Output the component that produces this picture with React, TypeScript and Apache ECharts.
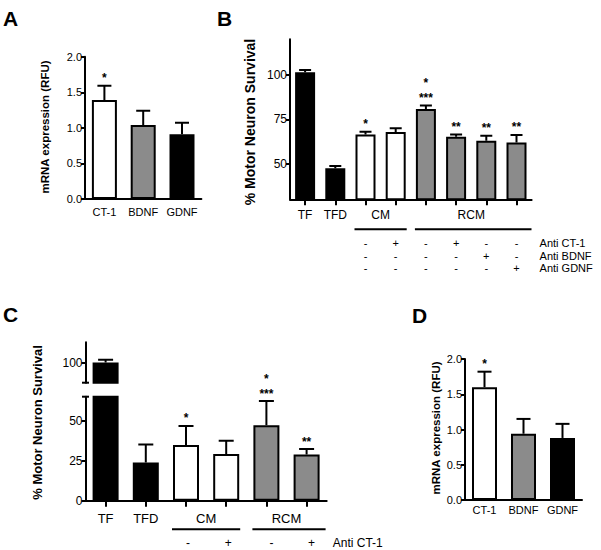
import React, { useEffect, useRef } from "react";
import * as echarts from "echarts";

const FONT = "'Liberation Sans', Arial, Helvetica, sans-serif";
const BLACK = "#000000";
const WHITE = "#ffffff";
const GRAY = "#8b8b8b";

// ---------- Panel A ----------
const aCategories = ["CT-1", "BDNF", "GDNF"];
const aValues = [1.39, 1.04, 0.91];
const aErrors = [0.2, 0.2, 0.16];
const aStars = ["*", "", ""];
const aColors = [WHITE, GRAY, BLACK];

// ---------- Panel B ----------
const bCategories = ["TF", "TFD", "CM -", "CM +", "RCM -", "RCM aCT-1", "RCM aBDNF", "RCM aGDNF"];
const bTickLabels = ["TF", "TFD", "", "", "", "", "", ""];
const bValues = [101.5, 47.5, 66.5, 67.8, 80.8, 65.2, 63.0, 62.0];
const bErrors = [1.2, 1.3, 1.5, 2.2, 1.9, 1.3, 2.8, 4.2];
const bStars = ["", "", "*", "", "*\n***", "**", "**", "**"];
const bColors = [BLACK, BLACK, WHITE, WHITE, GRAY, GRAY, GRAY, GRAY];
const bYTicks = [50, 75, 100];
const bGroups = [
  { label: "CM", from: 2, to: 3 },
  { label: "RCM", from: 4, to: 7 },
];
const bTreatmentNames = ["Anti CT-1", "Anti BDNF", "Anti GDNF"];
const bTreatmentSigns = [
  ["-", "+", "-", "+", "-", "-"],
  ["-", "-", "-", "-", "+", "-"],
  ["-", "-", "-", "-", "-", "+"],
];

// ---------- Panel C ----------
const cCategories = ["TF", "TFD", "CM -", "CM +", "RCM -", "RCM +"];
const cTickLabels = ["TF", "TFD", "", "", "", ""];
const cValues = [100, 23.8, 34.8, 29.2, 47.1, 28.8];
const cErrors = [1.7, 11.4, 11.9, 8.3, 15.2, 3.5];
const cStars = ["", "", "*", "", "*\n***", "**"];
const cColors = [BLACK, BLACK, WHITE, WHITE, GRAY, GRAY];
const cLowerTicks = [0, 25, 50];
const cUpperTicks = [100];
const cGroups = [
  { label: "CM", from: 2, to: 3 },
  { label: "RCM", from: 4, to: 5 },
];
const cTreatmentNames = ["Anti CT-1"];
const cTreatmentSigns = [["-", "+", "-", "+"]];

// ---------- Panel D ----------
const dCategories = ["CT-1", "BDNF", "GDNF"];
const dValues = [1.6, 0.94, 0.88];
const dErrors = [0.22, 0.21, 0.2];
const dStars = ["*", "", ""];
const dColors = [WHITE, GRAY, BLACK];

const mrnaTitle = "mRNA expression (RFU)";
const survivalTitle = "% Motor Neuron Survival";

// grid layouts (pixels)
const GRIDS = [
  { left: 85, top: 56.7, width: 116.4, height: 142.3 }, // A
  { left: 290, top: 39.3, width: 241.6, height: 160 }, // B
  { left: 85.5, top: 342.3, width: 241.2, height: 40.4 }, // C upper
  { left: 85.5, top: 396.7, width: 241.2, height: 104 }, // C lower
  { left: 465, top: 359, width: 117, height: 141 }, // D
];

function axisLineStyle() {
  return { show: true, lineStyle: { color: BLACK, width: 2 } };
}

function makeX(gridIndex: number, cats: string[], labels: string[] | null, opts: any) {
  return {
    type: "category",
    gridIndex,
    data: cats,
    boundaryGap: true,
    axisLine: opts.hideLine ? { show: false } : axisLineStyle(),
    axisTick: opts.ticks
      ? { show: true, alignWithLabel: true, length: 6, lineStyle: { color: BLACK, width: 2 } }
      : { show: false },
    axisLabel: opts.hideLabels
      ? { show: false }
      : {
          show: true,
          interval: 0,
          color: BLACK,
          fontFamily: FONT,
          fontSize: opts.fontSize,
          margin: opts.margin,
          formatter: (v: string, i: number) => (labels ? labels[i] : v),
        },
    splitLine: { show: false },
  };
}

function makeY(gridIndex: number, min: number, max: number, ticks: number[], fontSize: number, decimals: number) {
  return {
    type: "value",
    gridIndex,
    min,
    max,
    axisLine: axisLineStyle(),
    axisTick: { show: true, length: 4, customValues: ticks, lineStyle: { color: BLACK, width: 2 } },
    axisLabel: {
      show: true,
      customValues: ticks,
      color: BLACK,
      fontFamily: FONT,
      fontSize,
      margin: 3,
      formatter: (v: number) => v.toFixed(decimals),
    },
    splitLine: { show: false },
  };
}

function barSeries(axisIndex: number, values: number[], colors: string[], barWidth: number) {
  return {
    type: "bar",
    xAxisIndex: axisIndex,
    yAxisIndex: axisIndex,
    barWidth,
    clip: true,
    silent: true,
    itemStyle: { borderColor: BLACK, borderWidth: 2 },
    data: values.map((v, i) => ({ value: v, itemStyle: { color: colors[i], borderColor: BLACK, borderWidth: 2 } })),
  };
}

function errorSeries(axisIndex: number, values: number[], errors: number[], cap: number) {
  return {
    type: "custom",
    xAxisIndex: axisIndex,
    yAxisIndex: axisIndex,
    clip: true,
    silent: true,
    encode: { x: 0, y: 1 },
    data: values.map((v, i) => [i, v, v + errors[i]]),
    renderItem: (params: any, api: any) => {
      const i = api.value(0);
      const base = api.coord([i, api.value(1)]);
      const top = api.coord([i, api.value(2)]);
      return {
        type: "group",
        children: [
          { type: "line", shape: { x1: base[0], y1: base[1], x2: base[0], y2: top[1] }, style: { stroke: BLACK, lineWidth: 2 } },
          { type: "line", shape: { x1: base[0] - cap / 2, y1: top[1], x2: base[0] + cap / 2, y2: top[1] }, style: { stroke: BLACK, lineWidth: 2 } },
        ],
      };
    },
  };
}

function starSeries(axisIndex: number, values: number[], errors: number[], stars: string[]) {
  return {
    type: "custom",
    xAxisIndex: axisIndex,
    yAxisIndex: axisIndex,
    clip: false,
    silent: true,
    encode: { x: 0, y: 1 },
    data: values.map((v, i) => [i, v + errors[i]]),
    renderItem: (params: any, api: any) => {
      const s = stars[params.dataIndex];
      if (!s) return { type: "group", children: [] };
      const p = api.coord([api.value(0), api.value(1)]);
      return {
        type: "text",
        x: p[0],
        y: p[1],
        style: {
          text: s,
          align: "center",
          verticalAlign: "bottom",
          textAlign: "center",
          textVerticalAlign: "bottom",
          fontSize: 12,
          fontWeight: "bold",
          lineHeight: 15,
          fontFamily: FONT,
          fill: BLACK,
        },
      };
    },
  };
}

function buildOption() {
  return {
    animation: false,
    backgroundColor: WHITE,
    grid: GRIDS.map((g) => ({ ...g, containLabel: false })),
    xAxis: [
      makeX(0, aCategories, null, { ticks: false, fontSize: 11, margin: 7 }),
      makeX(1, bCategories, bTickLabels, { ticks: true, fontSize: 12, margin: 10 }),
      makeX(2, cCategories, null, { ticks: false, hideLine: true, hideLabels: true }),
      makeX(3, cCategories, cTickLabels, { ticks: true, fontSize: 13, margin: 11 }),
      makeX(4, dCategories, null, { ticks: false, fontSize: 11, margin: 4 }),
    ],
    yAxis: [
      makeY(0, 0, 2, [0, 0.5, 1, 1.5, 2], 11, 1),
      makeY(1, 30, 120, bYTicks, 12, 0),
      makeY(2, 87.5, 112.5, cUpperTicks, 12, 0),
      makeY(3, 0, 65, cLowerTicks, 12, 0),
      makeY(4, 0, 2, [0, 0.5, 1, 1.5, 2], 11, 1),
    ],
    series: [
      barSeries(0, aValues, aColors, 25),
      errorSeries(0, aValues, aErrors, 14),
      starSeries(0, aValues, aErrors, aStars),
      barSeries(1, bValues, bColors, 20),
      errorSeries(1, bValues, bErrors, 12),
      starSeries(1, bValues, bErrors, bStars),
      barSeries(2, cValues, cColors, 26),
      errorSeries(2, cValues, cErrors, 15),
      barSeries(3, cValues, cColors, 26),
      errorSeries(3, cValues, cErrors, 15),
      starSeries(3, cValues, cErrors, cStars),
      barSeries(4, dValues, dColors, 25),
      errorSeries(4, dValues, dErrors, 14),
      starSeries(4, dValues, dErrors, dStars),
    ],
  };
}

function txt(text: string, x: number, y: number, size: number, extra: any = {}) {
  return {
    type: "text",
    x,
    y,
    silent: true,
    ...extra,
    style: {
      text,
      fontSize: size,
      fontFamily: FONT,
      fill: BLACK,
      align: extra.align || "center",
      verticalAlign: "middle",
      fontWeight: extra.bold ? "bold" : "normal",
    },
  };
}

function hline(x1: number, x2: number, y: number) {
  return { type: "line", silent: true, shape: { x1, y1: y, x2, y2: y }, style: { stroke: BLACK, lineWidth: 2 } };
}

function buildGraphics(chart: any) {
  const els: any[] = [];
  // panel letters
  els.push(txt("A", 3, 18, 21, { align: "left", bold: true }));
  els.push(txt("B", 217, 18, 21, { align: "left", bold: true }));
  els.push(txt("C", 3, 314, 21, { align: "left", bold: true }));
  els.push(txt("D", 412, 315, 21, { align: "left", bold: true }));
  // axis titles
  els.push({ ...txt(mrnaTitle, 45, 127, 11.5, { bold: true }), rotation: Math.PI / 2 });
  els.push({ ...txt(survivalTitle, 250, 122, 14, { bold: true }), rotation: Math.PI / 2 });
  els.push({ ...txt(survivalTitle, 37, 422.5, 13, { bold: true }), rotation: Math.PI / 2 });
  els.push({ ...txt(mrnaTitle, 436, 428, 11.5, { bold: true }), rotation: Math.PI / 2 });

  const px = (grid: number, i: number) => chart.convertToPixel({ gridIndex: grid }, [i, 0])[0];

  // Panel B groups
  const bAxisY = GRIDS[1].top + GRIDS[1].height;
  const bHalf = 11;
  bGroups.forEach((g, k) => {
    const x1 = px(1, g.from);
    const x2 = px(1, g.to);
    els.push(txt(g.label, (x1 + x2) / 2, bAxisY + 16, 12));
    els.push(hline(x1 - bHalf, x2 + bHalf + (k === 1 ? 4 : 0), bAxisY + 30));
  });
  bTreatmentSigns.forEach((row, r) => {
    const y = bAxisY + 44 + r * 12.5;
    row.forEach((s, j) => els.push(txt(s, px(1, j + 2), y, 11)));
    els.push(txt(bTreatmentNames[r], GRIDS[1].left + GRIDS[1].width + 8, y, 11, { align: "left" }));
  });

  // Panel C groups
  const cAxisY = GRIDS[3].top + GRIDS[3].height;
  const cHalf = 14;
  cGroups.forEach((g, k) => {
    const x1 = px(3, g.from);
    const x2 = px(3, g.to);
    els.push(txt(g.label, (x1 + x2) / 2, cAxisY + 17.5, 13));
    els.push(hline(x1 - cHalf, x2 + cHalf + (k === 1 ? 5 : 0), cAxisY + 28.5));
  });
  cTreatmentSigns.forEach((row, r) => {
    const y = cAxisY + 42;
    row.forEach((s, j) => els.push(txt(s, px(3, j + 2) + (j >= 2 ? 5 : 2), y, 12)));
    els.push(txt(cTreatmentNames[r], GRIDS[3].left + GRIDS[3].width + 6, y, 12, { align: "left" }));
  });

  // broken axis caps in panel C
  const axX = GRIDS[3].left;
  els.push(hline(axX - 3.5, axX + 3.5, GRIDS[2].top + GRIDS[2].height));
  els.push(hline(axX - 3.5, axX + 3.5, GRIDS[3].top));

  return els;
}

export default function App() {
  const ref = useRef<HTMLDivElement>(null);
  useEffect(() => {
    if (!ref.current) return;
    const chart = echarts.init(ref.current, null, { renderer: "svg" });
    chart.setOption(buildOption() as any);
    chart.setOption({ graphic: buildGraphics(chart) } as any);
    return () => chart.dispose();
  }, []);
  return (
    <div
      ref={ref}
      style={{ position: "fixed", left: 0, top: 0, width: 601, height: 550, background: "#fff" }}
    />
  );
}
